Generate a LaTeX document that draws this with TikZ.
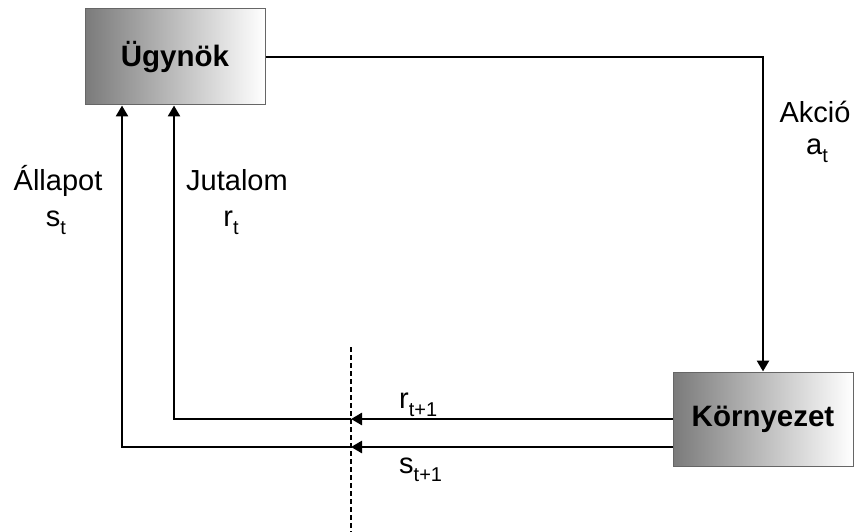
\documentclass[tikz,border=0pt]{standalone}
\usepackage{fontspec}
\setmainfont{Liberation Sans}
\usetikzlibrary{arrows.meta}
% lowered, smaller index text
\newcommand\lowidx[1]{\raisebox{-8pt}{\fontsize{20}{20}\selectfont #1}}
\begin{document}
\begin{tikzpicture}[x=1pt,y=-1pt,
  block/.style={draw=black!60, line width=1pt, left color=black!52, right color=white,
    font=\fontsize{29.5}{30}\selectfont\bfseries, inner sep=0pt},
  flow/.style={line width=2.6pt, -{Triangle[length=11pt,width=12pt]}},
  lbl/.style={font=\fontsize{29}{30}\selectfont, inner sep=0pt, anchor=base}]
\useasboundingbox (0,0) rectangle (856,532);

\node[block, minimum width=180pt, minimum height=96pt] (agent) at (175,57) {Ügynök};
\node[block, minimum width=180pt, minimum height=94pt] (env) at (763,419) {Környezet};

% action
\draw[flow] (agent.east) -| (env.north);

% reward and state fed back across the time boundary
\coordinate (rcut) at (351,419);
\coordinate (scut) at (351,447);
\coordinate (rturn) at (174,419);
\coordinate (sturn) at (122,447);
\draw[flow] (env.west |- rcut) -- (rcut);
\draw[flow] (env.west |- scut) -- (scut);
\draw[flow] (rcut) -- (rturn) -- (rturn |- agent.south);
\draw[flow] (scut) -- (sturn) -- (sturn |- agent.south);

% time boundary
\coordinate (dtop) at (351,347);
\coordinate (dbot) at (351,532);
\draw[line width=2pt, dash pattern=on 5pt off 3pt] (dtop) -- (dbot);

% labels
\node[lbl] (akcio) at (815,122) {Akció};
\node[lbl] (at) at (817,154) {a\lowidx{t}};
\node[lbl] (allapot) at (58,190) {Állapot};
\node[lbl] (st) at (56,226) {s\lowidx{t}};
\node[lbl] (jutalom) at (237,190) {Jutalom};
\node[lbl] (rt) at (231,226) {r\lowidx{t}};
\node[lbl, anchor=base west] (rnext) at (399,408) {r\lowidx{t+1}};
\node[lbl, anchor=base west] (snext) at (399,473) {s\lowidx{t+1}};
\end{tikzpicture}
\end{document}
